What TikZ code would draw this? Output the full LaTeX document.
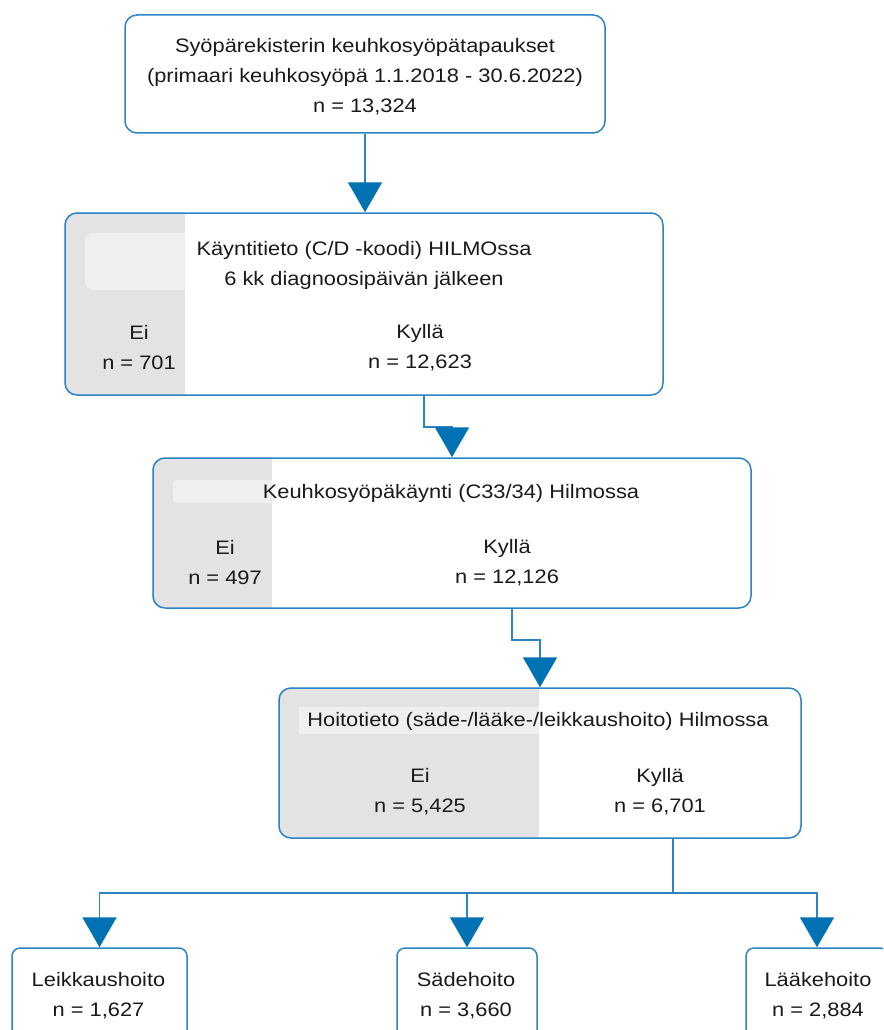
\documentclass[tikz,border=0pt]{standalone}
\usepackage{fontspec}
\setmainfont{Liberation Sans}[FakeStretch=1.12]
\usetikzlibrary{arrows.meta}
\definecolor{lineblue}{HTML}{2B85C4}
\definecolor{headblue}{HTML}{0071B3}
\definecolor{greyfill}{HTML}{E3E3E3}
\definecolor{lightfill}{HTML}{EFEFEF}
\definecolor{txtcol}{HTML}{1A1A1A}
\pgfdeclarelayer{bg}
\pgfsetlayers{bg,main}
\begin{document}
\begin{tikzpicture}[x=1pt,y=-1pt,
  box/.style={draw=lineblue, line width=1.5pt, rounded corners=12pt, inner sep=0pt},
  smallbox/.style={box, rounded corners=8pt},
  txt/.style={align=center, font=\fontsize{19.5}{30}\selectfont, text=txtcol, inner sep=0pt},
  conn/.style={draw=lineblue, line width=1.6pt, -{Triangle[width=34pt,length=30pt,color=headblue]}}
]
\useasboundingbox (0,0) rectangle (883,1030);
\clip (0,0) rectangle (883,1030);

% boxes
\node[box, minimum width=480pt, minimum height=118pt] (b1) at (365,74) {};
\node[box, minimum width=598pt, minimum height=182pt] (b2) at (364,304) {};
\node[box, minimum width=598pt, minimum height=150pt] (b3) at (452,533) {};
\node[box, minimum width=522pt, minimum height=150pt] (b4) at (540,763) {};
\node[smallbox, minimum width=175pt, minimum height=130pt] (b5) at (99.5,1013) {};
\node[smallbox, minimum width=140pt, minimum height=130pt] (b6) at (467,1013) {};
\node[smallbox, minimum width=142pt, minimum height=130pt] (b7) at (817,1013) {};

% grey backgrounds
\begin{pgfonlayer}{bg}
  \fill[white] (0,0) rectangle (883,1030);
  \begin{scope}
    \clip[rounded corners=12pt] (b2.north west) rectangle (b2.south east);
    \fill[greyfill] (b2.north west) rectangle (185,395);
    \clip (b2.north west) rectangle (185,395);
    \fill[lightfill, rounded corners=8pt] (85,233) rectangle (200,290);
  \end{scope}
  \begin{scope}
    \clip[rounded corners=12pt] (b3.north west) rectangle (b3.south east);
    \fill[greyfill] (b3.north west) rectangle (272,608);
    \clip (b3.north west) rectangle (272,608);
    \fill[lightfill, rounded corners=4pt] (173,480) rectangle (290,503);
  \end{scope}
  \begin{scope}
    \clip[rounded corners=12pt] (b4.north west) rectangle (b4.south east);
    \fill[greyfill] (b4.north west) rectangle (539,838);
    \clip (b4.north west) rectangle (539,838);
    \fill[lightfill] (299,707) rectangle (560,734);
  \end{scope}
\end{pgfonlayer}

% texts
\node[txt] (t1) at (365,77) {Syöpärekisterin keuhkosyöpätapaukset\\(primaari keuhkosyöpä 1.1.2018 - 30.6.2022)\\n = 13,324};
\node[txt] (t2) at (364,265) {Käyntitieto (C/D -koodi) HILMOssa\\6 kk diagnoosipäivän jälkeen};
\node[txt] (e2) at (139,348) {Ei\\n = 701};
\node[txt] (y2) at (420,348) {Kyllä\\n = 12,623};
\node[txt] (t3) at (451,493) {Keuhkosyöpäkäynti (C33/34) Hilmossa};
\node[txt] (e3) at (225,563) {Ei\\n = 497};
\node[txt] (y3) at (507,563) {Kyllä\\n = 12,126};
\node[txt] (t4) at (538,721) {Hoitotieto (säde-/lääke-/leikkaushoito) Hilmossa};
\node[txt] (e4) at (420,792) {Ei\\n = 5,425};
\node[txt] (y4) at (660,792) {Kyllä\\n = 6,701};
\node[txt] (l5) at (98.5,996) {Leikkaushoito\\n = 1,627};
\node[txt] (l6) at (466,996) {Sädehoito\\n = 3,660};
\node[txt] (l7) at (818,996) {Lääkehoito\\n = 2,884};

% connectors
\coordinate (j2) at (424,427);
\coordinate (j3) at (512,640);
\coordinate (j4) at (673,893);
\draw[conn] (b1.south) -- (b1.south |- b2.north);
\draw[conn] (j2 |- b2.south) -- (j2) -| (b3.north);
\draw[conn] (j3 |- b3.south) -- (j3) -| (b4.north);
\draw[draw=lineblue, line width=1.6pt] (j4 |- b4.south) -- (j4);
\draw[conn] (j4) -| (b5.north);
\draw[conn] (j4) -| (b6.north);
\draw[conn] (j4) -| (b7.north);
\end{tikzpicture}
\end{document}
